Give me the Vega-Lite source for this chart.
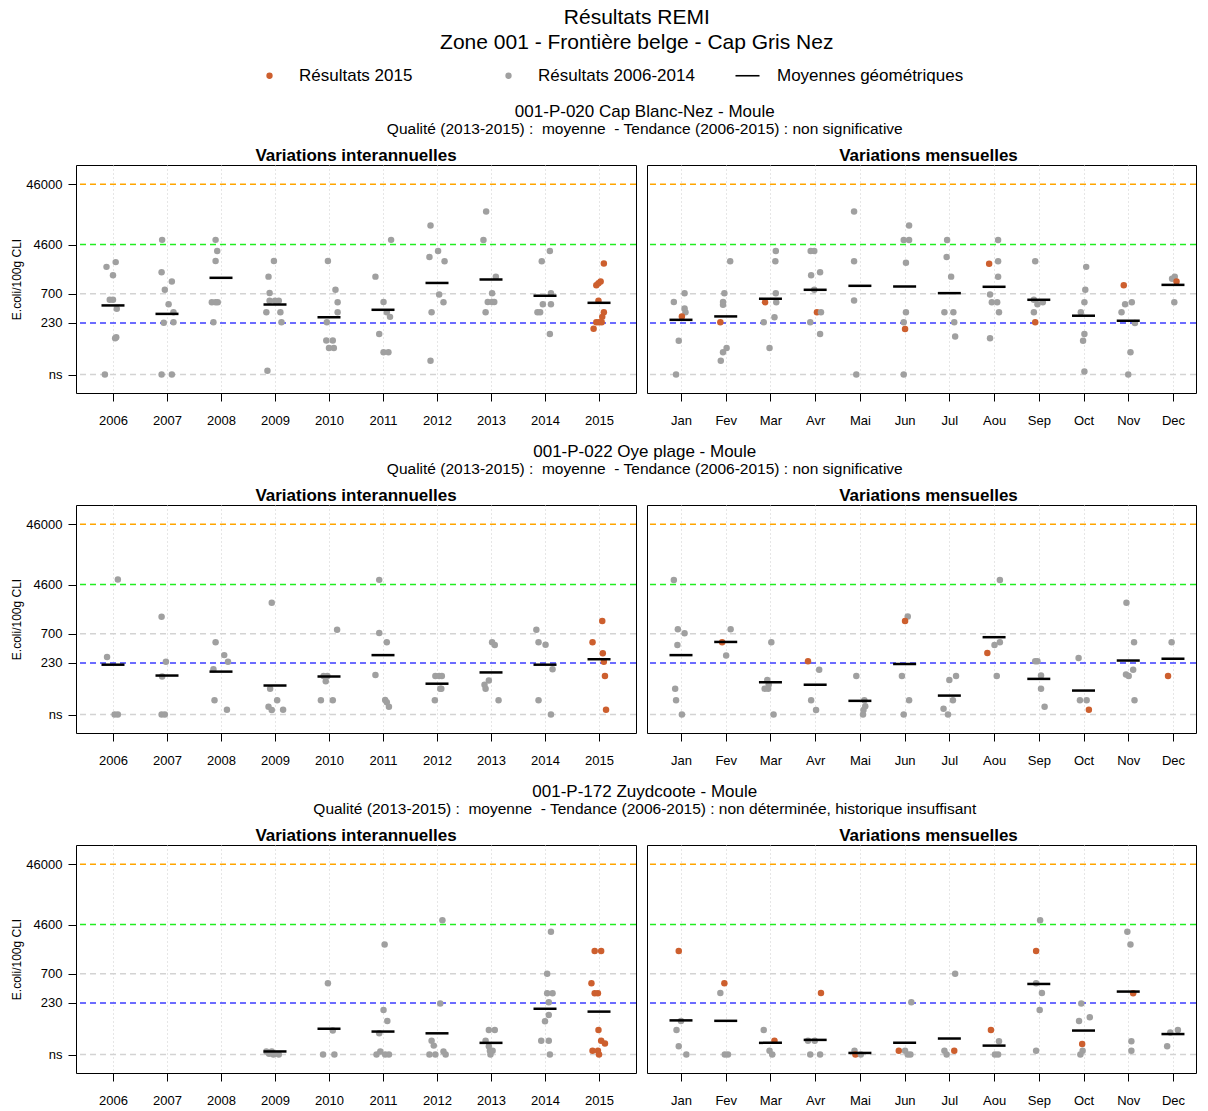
{
"$schema":"https://vega.github.io/schema/vega-lite/v6.json",
"padding":{"left":10,"top":7,"right":0,"bottom":0},
"title":{"text":["Résultats REMI","Zone 001 - Frontière belge - Cap Gris Nez"],"fontSize":21,"fontWeight":"normal","lineHeight":25,"offset":14,"frame":"bounds","dx":33},
"datasets":{
"refs":[{"v":46000,"k":"a"},{"v":4600,"k":"b"},{"v":700,"k":"c"},{"v":230,"k":"d"},{"v":32,"k":"c"}],
"pts":[
{"s":1,"p":"a","x":2005.88,"v":1960,"g":"o"},{"s":1,"p":"a","x":2006.05,"v":2350,"g":"o"},{"s":1,"p":"a","x":2006.0,"v":1420,"g":"o"},{"s":1,"p":"a","x":2005.94,"v":557,"g":"o"},{"s":1,"p":"a","x":2006.0,"v":557,"g":"o"},{"s":1,"p":"a","x":2006.07,"v":395,"g":"o"},{"s":1,"p":"a","x":2006.06,"v":133,"g":"o"},{"s":1,"p":"a","x":2006.04,"v":128,"g":"o"},{"s":1,"p":"a","x":2005.85,"v":32,"g":"o"},
{"s":1,"p":"a","x":2006.91,"v":5500,"g":"o"},{"s":1,"p":"a","x":2006.9,"v":1600,"g":"o"},{"s":1,"p":"a","x":2007.09,"v":1120,"g":"o"},{"s":1,"p":"a","x":2006.96,"v":816,"g":"o"},{"s":1,"p":"a","x":2007.03,"v":470,"g":"o"},{"s":1,"p":"a","x":2007.12,"v":347,"g":"o"},{"s":1,"p":"a","x":2006.94,"v":232,"g":"o"},{"s":1,"p":"a","x":2007.12,"v":237,"g":"o"},{"s":1,"p":"a","x":2006.9,"v":32,"g":"o"},{"s":1,"p":"a","x":2007.09,"v":32,"g":"o"},
{"s":1,"p":"a","x":2007.9,"v":5500,"g":"o"},{"s":1,"p":"a","x":2007.93,"v":3600,"g":"o"},{"s":1,"p":"a","x":2007.9,"v":2450,"g":"o"},{"s":1,"p":"a","x":2007.83,"v":509,"g":"o"},{"s":1,"p":"a","x":2007.9,"v":509,"g":"o"},{"s":1,"p":"a","x":2007.94,"v":509,"g":"o"},{"s":1,"p":"a","x":2007.86,"v":237,"g":"o"},
{"s":1,"p":"a","x":2008.98,"v":2450,"g":"o"},{"s":1,"p":"a","x":2008.88,"v":1350,"g":"o"},{"s":1,"p":"a","x":2008.9,"v":725,"g":"o"},{"s":1,"p":"a","x":2008.9,"v":535,"g":"o"},{"s":1,"p":"a","x":2009.0,"v":535,"g":"o"},{"s":1,"p":"a","x":2009.07,"v":535,"g":"o"},{"s":1,"p":"a","x":2008.84,"v":347,"g":"o"},{"s":1,"p":"a","x":2009.1,"v":347,"g":"o"},{"s":1,"p":"a","x":2009.12,"v":237,"g":"o"},{"s":1,"p":"a","x":2008.86,"v":37,"g":"o"},
{"s":1,"p":"a","x":2009.98,"v":2450,"g":"o"},{"s":1,"p":"a","x":2010.12,"v":816,"g":"o"},{"s":1,"p":"a","x":2010.16,"v":509,"g":"o"},{"s":1,"p":"a","x":2010.16,"v":347,"g":"o"},{"s":1,"p":"a","x":2009.96,"v":237,"g":"o"},{"s":1,"p":"a","x":2009.95,"v":118,"g":"o"},{"s":1,"p":"a","x":2010.07,"v":118,"g":"o"},{"s":1,"p":"a","x":2010.0,"v":88,"g":"o"},{"s":1,"p":"a","x":2010.09,"v":88,"g":"o"},
{"s":1,"p":"a","x":2011.15,"v":5500,"g":"o"},{"s":1,"p":"a","x":2010.86,"v":1350,"g":"o"},{"s":1,"p":"a","x":2011.01,"v":513,"g":"o"},{"s":1,"p":"a","x":2011.07,"v":347,"g":"o"},{"s":1,"p":"a","x":2011.13,"v":290,"g":"o"},{"s":1,"p":"a","x":2010.93,"v":150,"g":"o"},{"s":1,"p":"a","x":2011.01,"v":75,"g":"o"},{"s":1,"p":"a","x":2011.1,"v":75,"g":"o"},
{"s":1,"p":"a","x":2011.88,"v":9500,"g":"o"},{"s":1,"p":"a","x":2011.86,"v":2870,"g":"o"},{"s":1,"p":"a","x":2012.02,"v":3600,"g":"o"},{"s":1,"p":"a","x":2012.14,"v":2420,"g":"o"},{"s":1,"p":"a","x":2012.04,"v":680,"g":"o"},{"s":1,"p":"a","x":2012.12,"v":509,"g":"o"},{"s":1,"p":"a","x":2011.9,"v":347,"g":"o"},{"s":1,"p":"a","x":2011.88,"v":54,"g":"o"},
{"s":1,"p":"a","x":2012.91,"v":16200,"g":"o"},{"s":1,"p":"a","x":2012.86,"v":5450,"g":"o"},{"s":1,"p":"a","x":2013.09,"v":1340,"g":"o"},{"s":1,"p":"a","x":2013.02,"v":718,"g":"o"},{"s":1,"p":"a","x":2012.94,"v":513,"g":"o"},{"s":1,"p":"a","x":2013.02,"v":513,"g":"o"},{"s":1,"p":"a","x":2013.06,"v":513,"g":"o"},{"s":1,"p":"a","x":2012.9,"v":347,"g":"o"},
{"s":1,"p":"a","x":2014.09,"v":3600,"g":"o"},{"s":1,"p":"a","x":2013.94,"v":2420,"g":"o"},{"s":1,"p":"a","x":2014.11,"v":718,"g":"o"},{"s":1,"p":"a","x":2013.96,"v":470,"g":"o"},{"s":1,"p":"a","x":2014.11,"v":470,"g":"o"},{"s":1,"p":"a","x":2013.86,"v":347,"g":"o"},{"s":1,"p":"a","x":2013.91,"v":347,"g":"o"},{"s":1,"p":"a","x":2014.09,"v":150,"g":"o"},
{"s":1,"p":"a","x":2015.09,"v":2230,"g":"n"},{"s":1,"p":"a","x":2015.03,"v":1120,"g":"n"},{"s":1,"p":"a","x":2014.95,"v":970,"g":"n"},{"s":1,"p":"a","x":2014.99,"v":1050,"g":"n"},{"s":1,"p":"a","x":2014.99,"v":535,"g":"n"},{"s":1,"p":"a","x":2015.09,"v":347,"g":"n"},{"s":1,"p":"a","x":2015.06,"v":290,"g":"n"},{"s":1,"p":"a","x":2014.95,"v":237,"g":"n"},{"s":1,"p":"a","x":2015.0,"v":237,"g":"n"},{"s":1,"p":"a","x":2015.05,"v":237,"g":"n"},{"s":1,"p":"a","x":2014.9,"v":184,"g":"n"},

{"s":1,"p":"m","x":1.08,"v":718,"g":"o"},{"s":1,"p":"m","x":0.84,"v":513,"g":"o"},{"s":1,"p":"m","x":1.08,"v":400,"g":"o"},{"s":1,"p":"m","x":1.1,"v":347,"g":"o"},{"s":1,"p":"m","x":1.02,"v":295,"g":"n"},{"s":1,"p":"m","x":0.95,"v":116,"g":"o"},{"s":1,"p":"m","x":0.89,"v":32,"g":"o"},
{"s":1,"p":"m","x":2.1,"v":2420,"g":"o"},{"s":1,"p":"m","x":1.97,"v":718,"g":"o"},{"s":1,"p":"m","x":1.94,"v":513,"g":"o"},{"s":1,"p":"m","x":1.94,"v":460,"g":"o"},{"s":1,"p":"m","x":1.88,"v":237,"g":"n"},{"s":1,"p":"m","x":2.02,"v":88,"g":"o"},{"s":1,"p":"m","x":1.94,"v":75,"g":"o"},{"s":1,"p":"m","x":1.89,"v":54,"g":"o"},
{"s":1,"p":"m","x":3.12,"v":3600,"g":"o"},{"s":1,"p":"m","x":3.11,"v":2420,"g":"o"},{"s":1,"p":"m","x":3.12,"v":718,"g":"o"},{"s":1,"p":"m","x":3.13,"v":509,"g":"o"},{"s":1,"p":"m","x":2.88,"v":509,"g":"n"},{"s":1,"p":"m","x":3.09,"v":285,"g":"o"},{"s":1,"p":"m","x":2.85,"v":237,"g":"o"},{"s":1,"p":"m","x":2.98,"v":88,"g":"o"},
{"s":1,"p":"m","x":3.9,"v":3600,"g":"o"},{"s":1,"p":"m","x":3.98,"v":3600,"g":"o"},{"s":1,"p":"m","x":4.11,"v":1600,"g":"o"},{"s":1,"p":"m","x":3.91,"v":1420,"g":"o"},{"s":1,"p":"m","x":3.98,"v":816,"g":"o"},{"s":1,"p":"m","x":4.04,"v":347,"g":"n"},{"s":1,"p":"m","x":4.13,"v":347,"g":"o"},{"s":1,"p":"m","x":3.89,"v":237,"g":"o"},{"s":1,"p":"m","x":4.11,"v":150,"g":"o"},
{"s":1,"p":"m","x":4.87,"v":16200,"g":"o"},{"s":1,"p":"m","x":4.87,"v":2420,"g":"o"},{"s":1,"p":"m","x":4.87,"v":540,"g":"o"},{"s":1,"p":"m","x":4.92,"v":32,"g":"o"},
{"s":1,"p":"m","x":6.1,"v":9500,"g":"o"},{"s":1,"p":"m","x":5.98,"v":5450,"g":"o"},{"s":1,"p":"m","x":6.1,"v":5450,"g":"o"},{"s":1,"p":"m","x":6.03,"v":2300,"g":"o"},{"s":1,"p":"m","x":6.03,"v":347,"g":"o"},{"s":1,"p":"m","x":5.98,"v":237,"g":"o"},{"s":1,"p":"m","x":6.01,"v":183,"g":"n"},{"s":1,"p":"m","x":5.98,"v":32,"g":"o"},
{"s":1,"p":"m","x":6.95,"v":5450,"g":"o"},{"s":1,"p":"m","x":6.94,"v":2870,"g":"o"},{"s":1,"p":"m","x":7.04,"v":1350,"g":"o"},{"s":1,"p":"m","x":6.89,"v":347,"g":"o"},{"s":1,"p":"m","x":7.09,"v":347,"g":"o"},{"s":1,"p":"m","x":7.11,"v":237,"g":"o"},{"s":1,"p":"m","x":7.13,"v":137,"g":"o"},
{"s":1,"p":"m","x":8.09,"v":5450,"g":"o"},{"s":1,"p":"m","x":8.09,"v":2420,"g":"o"},{"s":1,"p":"m","x":7.89,"v":2200,"g":"n"},{"s":1,"p":"m","x":8.09,"v":1340,"g":"o"},{"s":1,"p":"m","x":7.91,"v":680,"g":"o"},{"s":1,"p":"m","x":7.95,"v":509,"g":"o"},{"s":1,"p":"m","x":8.07,"v":509,"g":"o"},{"s":1,"p":"m","x":8.11,"v":347,"g":"o"},{"s":1,"p":"m","x":7.91,"v":128,"g":"o"},
{"s":1,"p":"m","x":8.92,"v":2420,"g":"o"},{"s":1,"p":"m","x":8.89,"v":557,"g":"o"},{"s":1,"p":"m","x":8.97,"v":470,"g":"o"},{"s":1,"p":"m","x":9.09,"v":509,"g":"o"},{"s":1,"p":"m","x":8.89,"v":347,"g":"o"},{"s":1,"p":"m","x":8.92,"v":237,"g":"n"},
{"s":1,"p":"m","x":10.06,"v":1960,"g":"o"},{"s":1,"p":"m","x":10.04,"v":816,"g":"o"},{"s":1,"p":"m","x":10.02,"v":509,"g":"o"},{"s":1,"p":"m","x":9.94,"v":347,"g":"o"},{"s":1,"p":"m","x":10.02,"v":150,"g":"o"},{"s":1,"p":"m","x":9.99,"v":116,"g":"o"},{"s":1,"p":"m","x":10.02,"v":36,"g":"o"},
{"s":1,"p":"m","x":10.9,"v":970,"g":"n"},{"s":1,"p":"m","x":11.08,"v":509,"g":"o"},{"s":1,"p":"m","x":10.93,"v":470,"g":"o"},{"s":1,"p":"m","x":10.85,"v":347,"g":"o"},{"s":1,"p":"m","x":11.15,"v":230,"g":"o"},{"s":1,"p":"m","x":11.05,"v":75,"g":"o"},{"s":1,"p":"m","x":11.0,"v":32,"g":"o"},
{"s":1,"p":"m","x":12.04,"v":1340,"g":"o"},{"s":1,"p":"m","x":11.98,"v":1240,"g":"o"},{"s":1,"p":"m","x":12.08,"v":1120,"g":"n"},{"s":1,"p":"m","x":12.03,"v":509,"g":"o"},

{"s":2,"p":"a","x":2006.09,"v":5600,"g":"o"},{"s":2,"p":"a","x":2005.89,"v":288,"g":"o"},{"s":2,"p":"a","x":2006.03,"v":32,"g":"o"},{"s":2,"p":"a","x":2006.09,"v":32,"g":"o"},
{"s":2,"p":"a","x":2006.9,"v":1340,"g":"o"},{"s":2,"p":"a","x":2006.98,"v":240,"g":"o"},{"s":2,"p":"a","x":2006.91,"v":137,"g":"o"},{"s":2,"p":"a","x":2006.9,"v":32,"g":"o"},{"s":2,"p":"a","x":2006.96,"v":32,"g":"o"},
{"s":2,"p":"a","x":2007.9,"v":505,"g":"o"},{"s":2,"p":"a","x":2008.06,"v":310,"g":"o"},{"s":2,"p":"a","x":2008.13,"v":240,"g":"o"},{"s":2,"p":"a","x":2007.86,"v":180,"g":"o"},{"s":2,"p":"a","x":2007.88,"v":55,"g":"o"},{"s":2,"p":"a","x":2008.11,"v":38.5,"g":"o"},
{"s":2,"p":"a","x":2008.94,"v":2300,"g":"o"},{"s":2,"p":"a","x":2008.91,"v":86,"g":"o"},{"s":2,"p":"a","x":2009.04,"v":55,"g":"o"},{"s":2,"p":"a","x":2008.88,"v":43,"g":"o"},{"s":2,"p":"a","x":2008.94,"v":38,"g":"o"},{"s":2,"p":"a","x":2009.15,"v":38.5,"g":"o"},
{"s":2,"p":"a","x":2010.15,"v":816,"g":"o"},{"s":2,"p":"a","x":2009.9,"v":140,"g":"o"},{"s":2,"p":"a","x":2009.97,"v":140,"g":"o"},{"s":2,"p":"a","x":2009.94,"v":114,"g":"o"},{"s":2,"p":"a","x":2009.85,"v":55,"g":"o"},{"s":2,"p":"a","x":2010.07,"v":55,"g":"o"},
{"s":2,"p":"a","x":2010.93,"v":5500,"g":"o"},{"s":2,"p":"a","x":2010.93,"v":725,"g":"o"},{"s":2,"p":"a","x":2011.07,"v":505,"g":"o"},{"s":2,"p":"a","x":2010.86,"v":145,"g":"o"},{"s":2,"p":"a","x":2011.04,"v":56,"g":"o"},{"s":2,"p":"a","x":2011.07,"v":51,"g":"o"},{"s":2,"p":"a","x":2011.11,"v":43,"g":"o"},
{"s":2,"p":"a","x":2011.97,"v":140,"g":"o"},{"s":2,"p":"a","x":2012.04,"v":140,"g":"o"},{"s":2,"p":"a","x":2012.09,"v":140,"g":"o"},{"s":2,"p":"a","x":2012.06,"v":86,"g":"o"},{"s":2,"p":"a","x":2012.08,"v":86,"g":"o"},{"s":2,"p":"a","x":2011.96,"v":55,"g":"o"},
{"s":2,"p":"a","x":2013.02,"v":509,"g":"o"},{"s":2,"p":"a","x":2013.07,"v":455,"g":"o"},{"s":2,"p":"a","x":2012.96,"v":118,"g":"o"},{"s":2,"p":"a","x":2012.88,"v":100,"g":"o"},{"s":2,"p":"a","x":2012.9,"v":86,"g":"o"},{"s":2,"p":"a","x":2013.14,"v":55,"g":"o"},
{"s":2,"p":"a","x":2013.84,"v":816,"g":"o"},{"s":2,"p":"a","x":2013.88,"v":505,"g":"o"},{"s":2,"p":"a","x":2014.01,"v":460,"g":"o"},{"s":2,"p":"a","x":2014.14,"v":180,"g":"o"},{"s":2,"p":"a","x":2013.88,"v":55,"g":"o"},{"s":2,"p":"a","x":2014.11,"v":32,"g":"o"},
{"s":2,"p":"a","x":2015.06,"v":1140,"g":"n"},{"s":2,"p":"a","x":2014.88,"v":509,"g":"n"},{"s":2,"p":"a","x":2015.07,"v":334,"g":"n"},{"s":2,"p":"a","x":2015.09,"v":240,"g":"n"},{"s":2,"p":"a","x":2015.11,"v":140,"g":"n"},{"s":2,"p":"a","x":2015.13,"v":38.5,"g":"n"},

{"s":2,"p":"m","x":0.84,"v":5450,"g":"o"},{"s":2,"p":"m","x":0.93,"v":830,"g":"o"},{"s":2,"p":"m","x":1.08,"v":718,"g":"o"},{"s":2,"p":"m","x":0.92,"v":455,"g":"o"},{"s":2,"p":"m","x":0.87,"v":86,"g":"o"},{"s":2,"p":"m","x":0.89,"v":55,"g":"o"},{"s":2,"p":"m","x":1.02,"v":32,"g":"o"},
{"s":2,"p":"m","x":2.11,"v":830,"g":"o"},{"s":2,"p":"m","x":1.92,"v":509,"g":"n"},{"s":2,"p":"m","x":2.01,"v":305,"g":"o"},
{"s":2,"p":"m","x":3.02,"v":505,"g":"o"},{"s":2,"p":"m","x":2.93,"v":120,"g":"o"},{"s":2,"p":"m","x":2.96,"v":100,"g":"o"},{"s":2,"p":"m","x":2.87,"v":86,"g":"o"},{"s":2,"p":"m","x":2.95,"v":86,"g":"o"},{"s":2,"p":"m","x":3.07,"v":32,"g":"o"},
{"s":2,"p":"m","x":3.84,"v":245,"g":"n"},{"s":2,"p":"m","x":4.09,"v":178,"g":"o"},{"s":2,"p":"m","x":3.91,"v":55,"g":"o"},{"s":2,"p":"m","x":4.02,"v":38,"g":"o"},
{"s":2,"p":"m","x":4.92,"v":140,"g":"o"},{"s":2,"p":"m","x":5.1,"v":55,"g":"o"},{"s":2,"p":"m","x":5.12,"v":44,"g":"o"},{"s":2,"p":"m","x":5.08,"v":38,"g":"o"},{"s":2,"p":"m","x":5.07,"v":32,"g":"o"},
{"s":2,"p":"m","x":6.07,"v":1360,"g":"o"},{"s":2,"p":"m","x":6.01,"v":1140,"g":"n"},{"s":2,"p":"m","x":5.94,"v":140,"g":"o"},{"s":2,"p":"m","x":6.1,"v":55,"g":"o"},{"s":2,"p":"m","x":5.98,"v":32,"g":"o"},
{"s":2,"p":"m","x":7.15,"v":140,"g":"o"},{"s":2,"p":"m","x":7.0,"v":120,"g":"o"},{"s":2,"p":"m","x":7.08,"v":55,"g":"o"},{"s":2,"p":"m","x":6.87,"v":40,"g":"o"},{"s":2,"p":"m","x":6.97,"v":32,"g":"o"},
{"s":2,"p":"m","x":8.13,"v":5450,"g":"o"},{"s":2,"p":"m","x":8.13,"v":509,"g":"o"},{"s":2,"p":"m","x":8.01,"v":455,"g":"o"},{"s":2,"p":"m","x":7.85,"v":336,"g":"n"},{"s":2,"p":"m","x":8.06,"v":140,"g":"o"},
{"s":2,"p":"m","x":8.92,"v":245,"g":"o"},{"s":2,"p":"m","x":8.97,"v":245,"g":"o"},{"s":2,"p":"m","x":9.05,"v":142,"g":"o"},{"s":2,"p":"m","x":9.05,"v":86,"g":"o"},{"s":2,"p":"m","x":9.13,"v":43,"g":"o"},
{"s":2,"p":"m","x":9.89,"v":277,"g":"o"},{"s":2,"p":"m","x":9.92,"v":55,"g":"o"},{"s":2,"p":"m","x":10.07,"v":55,"g":"o"},{"s":2,"p":"m","x":10.12,"v":38.5,"g":"n"},
{"s":2,"p":"m","x":10.96,"v":2300,"g":"o"},{"s":2,"p":"m","x":11.13,"v":505,"g":"o"},{"s":2,"p":"m","x":11.11,"v":178,"g":"o"},{"s":2,"p":"m","x":10.95,"v":148,"g":"o"},{"s":2,"p":"m","x":11.01,"v":140,"g":"o"},{"s":2,"p":"m","x":11.14,"v":55,"g":"o"},
{"s":2,"p":"m","x":11.97,"v":509,"g":"o"},{"s":2,"p":"m","x":11.89,"v":140,"g":"n"},

{"s":3,"p":"a","x":2008.84,"v":36,"g":"o"},{"s":3,"p":"a","x":2008.89,"v":33,"g":"o"},{"s":3,"p":"a","x":2008.94,"v":36,"g":"o"},{"s":3,"p":"a","x":2008.97,"v":32,"g":"o"},{"s":3,"p":"a","x":2009.07,"v":32,"g":"o"},
{"s":3,"p":"a","x":2009.98,"v":490,"g":"o"},{"s":3,"p":"a","x":2010.07,"v":80,"g":"o"},{"s":3,"p":"a","x":2009.89,"v":32,"g":"o"},{"s":3,"p":"a","x":2010.1,"v":32,"g":"o"},
{"s":3,"p":"a","x":2011.03,"v":2150,"g":"o"},{"s":3,"p":"a","x":2011.01,"v":175,"g":"o"},{"s":3,"p":"a","x":2011.08,"v":115,"g":"o"},{"s":3,"p":"a","x":2010.93,"v":72,"g":"o"},{"s":3,"p":"a","x":2010.88,"v":32,"g":"o"},{"s":3,"p":"a","x":2010.95,"v":36,"g":"o"},{"s":3,"p":"a","x":2011.04,"v":32,"g":"o"},{"s":3,"p":"a","x":2011.11,"v":32,"g":"o"},
{"s":3,"p":"a","x":2012.1,"v":5400,"g":"o"},{"s":3,"p":"a","x":2012.06,"v":225,"g":"o"},{"s":3,"p":"a","x":2011.9,"v":54,"g":"o"},{"s":3,"p":"a","x":2011.94,"v":45,"g":"o"},{"s":3,"p":"a","x":2011.86,"v":32,"g":"o"},{"s":3,"p":"a","x":2011.97,"v":32,"g":"o"},{"s":3,"p":"a","x":2012.12,"v":36,"g":"o"},{"s":3,"p":"a","x":2012.16,"v":32,"g":"o"},
{"s":3,"p":"a","x":2012.96,"v":82,"g":"o"},{"s":3,"p":"a","x":2013.07,"v":82,"g":"o"},{"s":3,"p":"a","x":2012.9,"v":54,"g":"o"},{"s":3,"p":"a","x":2012.96,"v":44,"g":"o"},{"s":3,"p":"a","x":2012.98,"v":37,"g":"o"},{"s":3,"p":"a","x":2013.03,"v":37,"g":"o"},{"s":3,"p":"a","x":2012.99,"v":32,"g":"o"},
{"s":3,"p":"a","x":2014.11,"v":3500,"g":"o"},{"s":3,"p":"a","x":2014.04,"v":700,"g":"o"},{"s":3,"p":"a","x":2014.04,"v":334,"g":"o"},{"s":3,"p":"a","x":2014.14,"v":334,"g":"o"},{"s":3,"p":"a","x":2014.07,"v":237,"g":"o"},{"s":3,"p":"a","x":2014.07,"v":145,"g":"o"},{"s":3,"p":"a","x":2014.0,"v":114,"g":"o"},{"s":3,"p":"a","x":2013.93,"v":54,"g":"o"},{"s":3,"p":"a","x":2014.07,"v":54,"g":"o"},{"s":3,"p":"a","x":2014.09,"v":32,"g":"o"},
{"s":3,"p":"a","x":2014.92,"v":1680,"g":"n"},{"s":3,"p":"a","x":2015.04,"v":1680,"g":"n"},{"s":3,"p":"a","x":2014.86,"v":490,"g":"n"},{"s":3,"p":"a","x":2014.92,"v":334,"g":"n"},{"s":3,"p":"a","x":2014.98,"v":334,"g":"n"},{"s":3,"p":"a","x":2014.99,"v":82,"g":"n"},{"s":3,"p":"a","x":2015.04,"v":54,"g":"n"},{"s":3,"p":"a","x":2015.11,"v":49,"g":"n"},{"s":3,"p":"a","x":2014.88,"v":37,"g":"n"},{"s":3,"p":"a","x":2014.98,"v":37,"g":"n"},{"s":3,"p":"a","x":2015.0,"v":32,"g":"n"},

{"s":3,"p":"m","x":0.95,"v":1680,"g":"n"},{"s":3,"p":"m","x":1.0,"v":115,"g":"o"},{"s":3,"p":"m","x":0.9,"v":82,"g":"o"},{"s":3,"p":"m","x":0.95,"v":44,"g":"o"},{"s":3,"p":"m","x":1.12,"v":32,"g":"o"},
{"s":3,"p":"m","x":1.97,"v":490,"g":"n"},{"s":3,"p":"m","x":1.88,"v":336,"g":"o"},{"s":3,"p":"m","x":1.98,"v":32,"g":"o"},{"s":3,"p":"m","x":2.05,"v":32,"g":"o"},
{"s":3,"p":"m","x":2.85,"v":82,"g":"o"},{"s":3,"p":"m","x":3.09,"v":54,"g":"n"},{"s":3,"p":"m","x":2.98,"v":37,"g":"o"},{"s":3,"p":"m","x":3.04,"v":32,"g":"o"},
{"s":3,"p":"m","x":4.13,"v":336,"g":"n"},{"s":3,"p":"m","x":3.84,"v":54,"g":"o"},{"s":3,"p":"m","x":3.99,"v":54,"g":"o"},{"s":3,"p":"m","x":3.89,"v":32,"g":"o"},{"s":3,"p":"m","x":4.11,"v":32,"g":"o"},
{"s":3,"p":"m","x":4.88,"v":37,"g":"o"},{"s":3,"p":"m","x":4.9,"v":32,"g":"n"},{"s":3,"p":"m","x":5.02,"v":32,"g":"o"},
{"s":3,"p":"m","x":6.15,"v":237,"g":"o"},{"s":3,"p":"m","x":5.87,"v":37,"g":"n"},{"s":3,"p":"m","x":6.01,"v":37,"g":"o"},{"s":3,"p":"m","x":6.07,"v":32,"g":"o"},{"s":3,"p":"m","x":6.13,"v":32,"g":"o"},
{"s":3,"p":"m","x":7.13,"v":700,"g":"o"},{"s":3,"p":"m","x":6.89,"v":37,"g":"o"},{"s":3,"p":"m","x":6.94,"v":32,"g":"o"},{"s":3,"p":"m","x":7.11,"v":37,"g":"n"},
{"s":3,"p":"m","x":7.93,"v":82,"g":"n"},{"s":3,"p":"m","x":8.11,"v":53,"g":"o"},{"s":3,"p":"m","x":8.02,"v":32,"g":"o"},{"s":3,"p":"m","x":8.09,"v":32,"g":"o"},
{"s":3,"p":"m","x":9.03,"v":5400,"g":"o"},{"s":3,"p":"m","x":8.94,"v":1680,"g":"n"},{"s":3,"p":"m","x":8.94,"v":490,"g":"o"},{"s":3,"p":"m","x":9.07,"v":336,"g":"o"},{"s":3,"p":"m","x":9.02,"v":175,"g":"o"},{"s":3,"p":"m","x":8.94,"v":37,"g":"o"},
{"s":3,"p":"m","x":9.95,"v":225,"g":"o"},{"s":3,"p":"m","x":10.14,"v":133,"g":"o"},{"s":3,"p":"m","x":9.9,"v":115,"g":"o"},{"s":3,"p":"m","x":9.97,"v":48,"g":"n"},{"s":3,"p":"m","x":9.98,"v":37,"g":"o"},{"s":3,"p":"m","x":9.93,"v":32,"g":"o"},
{"s":3,"p":"m","x":10.98,"v":3500,"g":"o"},{"s":3,"p":"m","x":11.05,"v":2150,"g":"o"},{"s":3,"p":"m","x":11.11,"v":334,"g":"n"},{"s":3,"p":"m","x":11.07,"v":53,"g":"o"},{"s":3,"p":"m","x":11.07,"v":37,"g":"o"},
{"s":3,"p":"m","x":12.11,"v":82,"g":"o"},{"s":3,"p":"m","x":11.94,"v":74,"g":"o"},{"s":3,"p":"m","x":11.87,"v":44,"g":"o"}
],
"gm":[
{"s":1,"p":"a","x":2006,"v":449},{"s":1,"p":"a","x":2007,"v":325},{"s":1,"p":"a","x":2008,"v":1290},{"s":1,"p":"a","x":2009,"v":465},{"s":1,"p":"a","x":2010,"v":285},{"s":1,"p":"a","x":2011,"v":380},{"s":1,"p":"a","x":2012,"v":1060},{"s":1,"p":"a","x":2013,"v":1210},{"s":1,"p":"a","x":2014,"v":650},{"s":1,"p":"a","x":2015,"v":496},
{"s":1,"p":"m","x":1,"v":259},{"s":1,"p":"m","x":2,"v":295},{"s":1,"p":"m","x":3,"v":580},{"s":1,"p":"m","x":4,"v":816},{"s":1,"p":"m","x":5,"v":950},{"s":1,"p":"m","x":6,"v":926},{"s":1,"p":"m","x":7,"v":718},{"s":1,"p":"m","x":8,"v":915},{"s":1,"p":"m","x":9,"v":557},{"s":1,"p":"m","x":10,"v":303},{"s":1,"p":"m","x":11,"v":250},{"s":1,"p":"m","x":12,"v":985},
{"s":2,"p":"a","x":2006,"v":215},{"s":2,"p":"a","x":2007,"v":142},{"s":2,"p":"a","x":2008,"v":165},{"s":2,"p":"a","x":2009,"v":97},{"s":2,"p":"a","x":2010,"v":137},{"s":2,"p":"a","x":2011,"v":310},{"s":2,"p":"a","x":2012,"v":104},{"s":2,"p":"a","x":2013,"v":160},{"s":2,"p":"a","x":2014,"v":215},{"s":2,"p":"a","x":2015,"v":265},
{"s":2,"p":"m","x":1,"v":310},{"s":2,"p":"m","x":2,"v":513},{"s":2,"p":"m","x":3,"v":110},{"s":2,"p":"m","x":4,"v":100},{"s":2,"p":"m","x":5,"v":54},{"s":2,"p":"m","x":6,"v":220},{"s":2,"p":"m","x":7,"v":66},{"s":2,"p":"m","x":8,"v":615},{"s":2,"p":"m","x":9,"v":125},{"s":2,"p":"m","x":10,"v":80},{"s":2,"p":"m","x":11,"v":252},{"s":2,"p":"m","x":12,"v":270},
{"s":3,"p":"a","x":2009,"v":36},{"s":3,"p":"a","x":2010,"v":86},{"s":3,"p":"a","x":2011,"v":77},{"s":3,"p":"a","x":2012,"v":72},{"s":3,"p":"a","x":2013,"v":50},{"s":3,"p":"a","x":2014,"v":184},{"s":3,"p":"a","x":2015,"v":165},
{"s":3,"p":"m","x":1,"v":118},{"s":3,"p":"m","x":2,"v":116},{"s":3,"p":"m","x":3,"v":50},{"s":3,"p":"m","x":4,"v":56},{"s":3,"p":"m","x":5,"v":34},{"s":3,"p":"m","x":6,"v":50},{"s":3,"p":"m","x":7,"v":59},{"s":3,"p":"m","x":8,"v":45},{"s":3,"p":"m","x":9,"v":475},{"s":3,"p":"m","x":10,"v":80},{"s":3,"p":"m","x":11,"v":355},{"s":3,"p":"m","x":12,"v":70}
]
},
"spacing":15,
"vconcat":[
{"title":{"text":"001-P-020 Cap Blanc-Nez - Moule","subtitle":"Qualité (2013-2015) : \u00a0moyenne \u00a0- Tendance (2006-2015) : non significative","fontSize":17,"fontWeight":"normal","subtitleFontSize":15.5,"subtitleColor":"black","subtitlePadding":1,"offset":8,"frame":"bounds","dx":41},
"spacing":7,
"hconcat":[
{"width":560,"height":228,"title":{"text":"Variations interannuelles","offset":0},
"encoding":{"y":{"field":"v","type":"quantitative","scale":{"type":"log","domain":[15.8,96200],"nice":false},"axis":{"values":[32,230,700,4600,46000],"labelExpr":"datum.value < 100 ? 'ns' : format(datum.value, 'd')","title":"E.coli/100g CLI","grid":false}}},
"layer":[
{"data":{"name":"refs"},"mark":{"type":"rule","strokeDash":[6,4],"strokeWidth":1.4},"encoding":{"stroke":{"field":"k","type":"nominal","scale":{"domain":["a","b","c","d"],"range":["#FFA500","#22EE22","#D3D3D3","#3D3DFF"]},"legend":null}}},
{"data":{"name":"pts"},"transform":[{"filter":"datum.s==1 && datum.p=='a'"}],"mark":{"type":"point","filled":true,"size":42,"opacity":1},
"encoding":{"x":{"field":"x","type":"quantitative","scale":{"domain":[2005.315,2015.685],"nice":false,"zero":false},"axis":{"values":[2006,2007,2008,2009,2010,2011,2012,2013,2014,2015],"format":"d","title":null,"grid":true}},
"color":{"field":"g","type":"nominal","scale":{"domain":["n","o","m"],"range":["#CD5F2E","#A0A0A0","#000000"]},"legend":{"title":null,"orient":"none","legendX":185,"legendY":-98,"direction":"horizontal","columns":3,"gridAlign":"all","columnPadding":10,"labelFontSize":17,"symbolSize":40,"labelOffset":21,"labelLimit":300,"labelExpr":"datum.label=='n' ? 'Résultats 2015' : datum.label=='o' ? 'Résultats 2006-2014' : 'Moyennes géométriques'"}},
"shape":{"field":"g","type":"nominal","scale":{"domain":["n","o","m"],"range":["circle","circle","M-3.8,-0.25H3.8V0.25H-3.8Z"]},"legend":{"title":null,"orient":"none","legendX":185,"legendY":-98,"direction":"horizontal","columns":3,"gridAlign":"all","columnPadding":10,"labelFontSize":17,"symbolSize":40,"labelOffset":21,"labelLimit":300,"labelExpr":"datum.label=='n' ? 'Résultats 2015' : datum.label=='o' ? 'Résultats 2006-2014' : 'Moyennes géométriques'"}}}},
{"data":{"name":"gm"},"transform":[{"filter":"datum.s==1 && datum.p=='a'"}],"mark":{"type":"tick","orient":"horizontal","color":"black","opacity":1,"size":23,"thickness":2.5},
"encoding":{"x":{"field":"x","type":"quantitative","scale":{"domain":[2005.315,2015.685],"nice":false,"zero":false},"axis":{"values":[2006,2007,2008,2009,2010,2011,2012,2013,2014,2015],"format":"d","title":null,"grid":true}}}}
]},
{"width":549,"height":228,"title":{"text":"Variations mensuelles","offset":0,"dx":7},
"encoding":{"y":{"field":"v","type":"quantitative","scale":{"type":"log","domain":[15.8,96200],"nice":false},"axis":null}},
"layer":[
{"data":{"name":"refs"},"mark":{"type":"rule","strokeDash":[6,4],"strokeWidth":1.4},"encoding":{"stroke":{"field":"k","type":"nominal","scale":{"domain":["a","b","c","d"],"range":["#FFA500","#22EE22","#D3D3D3","#3D3DFF"]},"legend":null}}},
{"data":{"name":"pts"},"transform":[{"filter":"datum.s==1 && datum.p=='m'"}],"mark":{"type":"point","filled":true,"size":42,"opacity":1},
"encoding":{"x":{"field":"x","type":"quantitative","scale":{"domain":[0.24,12.515],"nice":false,"zero":false},"axis":{"values":[1,2,3,4,5,6,7,8,9,10,11,12],"labelExpr":"['Jan','Fev','Mar','Avr','Mai','Jun','Jul','Aou','Sep','Oct','Nov','Dec'][datum.value-1]","title":null,"grid":true}},
"color":{"field":"g","type":"nominal","scale":{"domain":["n","o","m"],"range":["#CD5F2E","#A0A0A0","#000000"]},"legend":{"title":null,"orient":"none","legendX":185,"legendY":-98,"direction":"horizontal","columns":3,"gridAlign":"all","columnPadding":10,"labelFontSize":17,"symbolSize":40,"labelOffset":21,"labelLimit":300,"labelExpr":"datum.label=='n' ? 'Résultats 2015' : datum.label=='o' ? 'Résultats 2006-2014' : 'Moyennes géométriques'"}},
"shape":{"field":"g","type":"nominal","scale":{"domain":["n","o","m"],"range":["circle","circle","M-3.8,-0.25H3.8V0.25H-3.8Z"]},"legend":{"title":null,"orient":"none","legendX":185,"legendY":-98,"direction":"horizontal","columns":3,"gridAlign":"all","columnPadding":10,"labelFontSize":17,"symbolSize":40,"labelOffset":21,"labelLimit":300,"labelExpr":"datum.label=='n' ? 'Résultats 2015' : datum.label=='o' ? 'Résultats 2006-2014' : 'Moyennes géométriques'"}}}},
{"data":{"name":"gm"},"transform":[{"filter":"datum.s==1 && datum.p=='m'"}],"mark":{"type":"tick","orient":"horizontal","color":"black","opacity":1,"size":23,"thickness":2.5},
"encoding":{"x":{"field":"x","type":"quantitative","scale":{"domain":[0.24,12.515],"nice":false,"zero":false},"axis":{"values":[1,2,3,4,5,6,7,8,9,10,11,12],"labelExpr":"['Jan','Fev','Mar','Avr','Mai','Jun','Jul','Aou','Sep','Oct','Nov','Dec'][datum.value-1]","title":null,"grid":true}}}}
]}
]},
{"title":{"text":"001-P-022 Oye plage - Moule","subtitle":"Qualité (2013-2015) : \u00a0moyenne \u00a0- Tendance (2006-2015) : non significative","fontSize":17,"fontWeight":"normal","subtitleFontSize":15.5,"subtitleColor":"black","subtitlePadding":1,"offset":8,"frame":"bounds","dx":41},
"spacing":7,
"hconcat":[
{"width":560,"height":228,"title":{"text":"Variations interannuelles","offset":0},
"encoding":{"y":{"field":"v","type":"quantitative","scale":{"type":"log","domain":[15.8,96200],"nice":false},"axis":{"values":[32,230,700,4600,46000],"labelExpr":"datum.value < 100 ? 'ns' : format(datum.value, 'd')","title":"E.coli/100g CLI","grid":false}}},
"layer":[
{"data":{"name":"refs"},"mark":{"type":"rule","strokeDash":[6,4],"strokeWidth":1.4},"encoding":{"stroke":{"field":"k","type":"nominal","scale":{"domain":["a","b","c","d"],"range":["#FFA500","#22EE22","#D3D3D3","#3D3DFF"]},"legend":null}}},
{"data":{"name":"pts"},"transform":[{"filter":"datum.s==2 && datum.p=='a'"}],"mark":{"type":"point","filled":true,"size":42,"opacity":1},
"encoding":{"x":{"field":"x","type":"quantitative","scale":{"domain":[2005.315,2015.685],"nice":false,"zero":false},"axis":{"values":[2006,2007,2008,2009,2010,2011,2012,2013,2014,2015],"format":"d","title":null,"grid":true}},
"color":{"field":"g","type":"nominal","scale":{"domain":["n","o","m"],"range":["#CD5F2E","#A0A0A0","#000000"]},"legend":{"title":null,"orient":"none","legendX":185,"legendY":-98,"direction":"horizontal","columns":3,"gridAlign":"all","columnPadding":10,"labelFontSize":17,"symbolSize":40,"labelOffset":21,"labelLimit":300,"labelExpr":"datum.label=='n' ? 'Résultats 2015' : datum.label=='o' ? 'Résultats 2006-2014' : 'Moyennes géométriques'"}},
"shape":{"field":"g","type":"nominal","scale":{"domain":["n","o","m"],"range":["circle","circle","M-3.8,-0.25H3.8V0.25H-3.8Z"]},"legend":{"title":null,"orient":"none","legendX":185,"legendY":-98,"direction":"horizontal","columns":3,"gridAlign":"all","columnPadding":10,"labelFontSize":17,"symbolSize":40,"labelOffset":21,"labelLimit":300,"labelExpr":"datum.label=='n' ? 'Résultats 2015' : datum.label=='o' ? 'Résultats 2006-2014' : 'Moyennes géométriques'"}}}},
{"data":{"name":"gm"},"transform":[{"filter":"datum.s==2 && datum.p=='a'"}],"mark":{"type":"tick","orient":"horizontal","color":"black","opacity":1,"size":23,"thickness":2.5},
"encoding":{"x":{"field":"x","type":"quantitative","scale":{"domain":[2005.315,2015.685],"nice":false,"zero":false},"axis":{"values":[2006,2007,2008,2009,2010,2011,2012,2013,2014,2015],"format":"d","title":null,"grid":true}}}}
]},
{"width":549,"height":228,"title":{"text":"Variations mensuelles","offset":0,"dx":7},
"encoding":{"y":{"field":"v","type":"quantitative","scale":{"type":"log","domain":[15.8,96200],"nice":false},"axis":null}},
"layer":[
{"data":{"name":"refs"},"mark":{"type":"rule","strokeDash":[6,4],"strokeWidth":1.4},"encoding":{"stroke":{"field":"k","type":"nominal","scale":{"domain":["a","b","c","d"],"range":["#FFA500","#22EE22","#D3D3D3","#3D3DFF"]},"legend":null}}},
{"data":{"name":"pts"},"transform":[{"filter":"datum.s==2 && datum.p=='m'"}],"mark":{"type":"point","filled":true,"size":42,"opacity":1},
"encoding":{"x":{"field":"x","type":"quantitative","scale":{"domain":[0.24,12.515],"nice":false,"zero":false},"axis":{"values":[1,2,3,4,5,6,7,8,9,10,11,12],"labelExpr":"['Jan','Fev','Mar','Avr','Mai','Jun','Jul','Aou','Sep','Oct','Nov','Dec'][datum.value-1]","title":null,"grid":true}},
"color":{"field":"g","type":"nominal","scale":{"domain":["n","o","m"],"range":["#CD5F2E","#A0A0A0","#000000"]},"legend":{"title":null,"orient":"none","legendX":185,"legendY":-98,"direction":"horizontal","columns":3,"gridAlign":"all","columnPadding":10,"labelFontSize":17,"symbolSize":40,"labelOffset":21,"labelLimit":300,"labelExpr":"datum.label=='n' ? 'Résultats 2015' : datum.label=='o' ? 'Résultats 2006-2014' : 'Moyennes géométriques'"}},
"shape":{"field":"g","type":"nominal","scale":{"domain":["n","o","m"],"range":["circle","circle","M-3.8,-0.25H3.8V0.25H-3.8Z"]},"legend":{"title":null,"orient":"none","legendX":185,"legendY":-98,"direction":"horizontal","columns":3,"gridAlign":"all","columnPadding":10,"labelFontSize":17,"symbolSize":40,"labelOffset":21,"labelLimit":300,"labelExpr":"datum.label=='n' ? 'Résultats 2015' : datum.label=='o' ? 'Résultats 2006-2014' : 'Moyennes géométriques'"}}}},
{"data":{"name":"gm"},"transform":[{"filter":"datum.s==2 && datum.p=='m'"}],"mark":{"type":"tick","orient":"horizontal","color":"black","opacity":1,"size":23,"thickness":2.5},
"encoding":{"x":{"field":"x","type":"quantitative","scale":{"domain":[0.24,12.515],"nice":false,"zero":false},"axis":{"values":[1,2,3,4,5,6,7,8,9,10,11,12],"labelExpr":"['Jan','Fev','Mar','Avr','Mai','Jun','Jul','Aou','Sep','Oct','Nov','Dec'][datum.value-1]","title":null,"grid":true}}}}
]}
]},
{"title":{"text":"001-P-172 Zuydcoote - Moule","subtitle":"Qualité (2013-2015) : \u00a0moyenne \u00a0- Tendance (2006-2015) : non déterminée, historique insuffisant","fontSize":17,"fontWeight":"normal","subtitleFontSize":15.5,"subtitleColor":"black","subtitlePadding":1,"offset":8,"frame":"bounds","dx":41},
"spacing":7,
"hconcat":[
{"width":560,"height":228,"title":{"text":"Variations interannuelles","offset":0},
"encoding":{"y":{"field":"v","type":"quantitative","scale":{"type":"log","domain":[15.8,96200],"nice":false},"axis":{"values":[32,230,700,4600,46000],"labelExpr":"datum.value < 100 ? 'ns' : format(datum.value, 'd')","title":"E.coli/100g CLI","grid":false}}},
"layer":[
{"data":{"name":"refs"},"mark":{"type":"rule","strokeDash":[6,4],"strokeWidth":1.4},"encoding":{"stroke":{"field":"k","type":"nominal","scale":{"domain":["a","b","c","d"],"range":["#FFA500","#22EE22","#D3D3D3","#3D3DFF"]},"legend":null}}},
{"data":{"name":"pts"},"transform":[{"filter":"datum.s==3 && datum.p=='a'"}],"mark":{"type":"point","filled":true,"size":42,"opacity":1},
"encoding":{"x":{"field":"x","type":"quantitative","scale":{"domain":[2005.315,2015.685],"nice":false,"zero":false},"axis":{"values":[2006,2007,2008,2009,2010,2011,2012,2013,2014,2015],"format":"d","title":null,"grid":true}},
"color":{"field":"g","type":"nominal","scale":{"domain":["n","o","m"],"range":["#CD5F2E","#A0A0A0","#000000"]},"legend":{"title":null,"orient":"none","legendX":185,"legendY":-98,"direction":"horizontal","columns":3,"gridAlign":"all","columnPadding":10,"labelFontSize":17,"symbolSize":40,"labelOffset":21,"labelLimit":300,"labelExpr":"datum.label=='n' ? 'Résultats 2015' : datum.label=='o' ? 'Résultats 2006-2014' : 'Moyennes géométriques'"}},
"shape":{"field":"g","type":"nominal","scale":{"domain":["n","o","m"],"range":["circle","circle","M-3.8,-0.25H3.8V0.25H-3.8Z"]},"legend":{"title":null,"orient":"none","legendX":185,"legendY":-98,"direction":"horizontal","columns":3,"gridAlign":"all","columnPadding":10,"labelFontSize":17,"symbolSize":40,"labelOffset":21,"labelLimit":300,"labelExpr":"datum.label=='n' ? 'Résultats 2015' : datum.label=='o' ? 'Résultats 2006-2014' : 'Moyennes géométriques'"}}}},
{"data":{"name":"gm"},"transform":[{"filter":"datum.s==3 && datum.p=='a'"}],"mark":{"type":"tick","orient":"horizontal","color":"black","opacity":1,"size":23,"thickness":2.5},
"encoding":{"x":{"field":"x","type":"quantitative","scale":{"domain":[2005.315,2015.685],"nice":false,"zero":false},"axis":{"values":[2006,2007,2008,2009,2010,2011,2012,2013,2014,2015],"format":"d","title":null,"grid":true}}}}
]},
{"width":549,"height":228,"title":{"text":"Variations mensuelles","offset":0,"dx":7},
"encoding":{"y":{"field":"v","type":"quantitative","scale":{"type":"log","domain":[15.8,96200],"nice":false},"axis":null}},
"layer":[
{"data":{"name":"refs"},"mark":{"type":"rule","strokeDash":[6,4],"strokeWidth":1.4},"encoding":{"stroke":{"field":"k","type":"nominal","scale":{"domain":["a","b","c","d"],"range":["#FFA500","#22EE22","#D3D3D3","#3D3DFF"]},"legend":null}}},
{"data":{"name":"pts"},"transform":[{"filter":"datum.s==3 && datum.p=='m'"}],"mark":{"type":"point","filled":true,"size":42,"opacity":1},
"encoding":{"x":{"field":"x","type":"quantitative","scale":{"domain":[0.24,12.515],"nice":false,"zero":false},"axis":{"values":[1,2,3,4,5,6,7,8,9,10,11,12],"labelExpr":"['Jan','Fev','Mar','Avr','Mai','Jun','Jul','Aou','Sep','Oct','Nov','Dec'][datum.value-1]","title":null,"grid":true}},
"color":{"field":"g","type":"nominal","scale":{"domain":["n","o","m"],"range":["#CD5F2E","#A0A0A0","#000000"]},"legend":{"title":null,"orient":"none","legendX":185,"legendY":-98,"direction":"horizontal","columns":3,"gridAlign":"all","columnPadding":10,"labelFontSize":17,"symbolSize":40,"labelOffset":21,"labelLimit":300,"labelExpr":"datum.label=='n' ? 'Résultats 2015' : datum.label=='o' ? 'Résultats 2006-2014' : 'Moyennes géométriques'"}},
"shape":{"field":"g","type":"nominal","scale":{"domain":["n","o","m"],"range":["circle","circle","M-3.8,-0.25H3.8V0.25H-3.8Z"]},"legend":{"title":null,"orient":"none","legendX":185,"legendY":-98,"direction":"horizontal","columns":3,"gridAlign":"all","columnPadding":10,"labelFontSize":17,"symbolSize":40,"labelOffset":21,"labelLimit":300,"labelExpr":"datum.label=='n' ? 'Résultats 2015' : datum.label=='o' ? 'Résultats 2006-2014' : 'Moyennes géométriques'"}}}},
{"data":{"name":"gm"},"transform":[{"filter":"datum.s==3 && datum.p=='m'"}],"mark":{"type":"tick","orient":"horizontal","color":"black","opacity":1,"size":23,"thickness":2.5},
"encoding":{"x":{"field":"x","type":"quantitative","scale":{"domain":[0.24,12.515],"nice":false,"zero":false},"axis":{"values":[1,2,3,4,5,6,7,8,9,10,11,12],"labelExpr":"['Jan','Fev','Mar','Avr','Mai','Jun','Jul','Aou','Sep','Oct','Nov','Dec'][datum.value-1]","title":null,"grid":true}}}}
]}
]}
],
"config":{
"font":"Liberation Sans",
"view":{"stroke":"black","strokeWidth":1},
"axis":{"labelFontSize":13,"labelColor":"black","tickColor":"black","tickSize":8,"domain":false,"gridColor":"#CCCCCC","gridDash":[1,3],"titleFontSize":12,"titleFontWeight":"normal","titleColor":"black","labelPadding":6,"titlePadding":2},
"axisX":{"labelPadding":13},
"title":{"fontSize":17,"fontWeight":"bold","color":"black","frame":"group","offset":0,"anchor":"middle"},
"legend":{"labelFont":"Liberation Sans","labelColor":"black"}
}
}
